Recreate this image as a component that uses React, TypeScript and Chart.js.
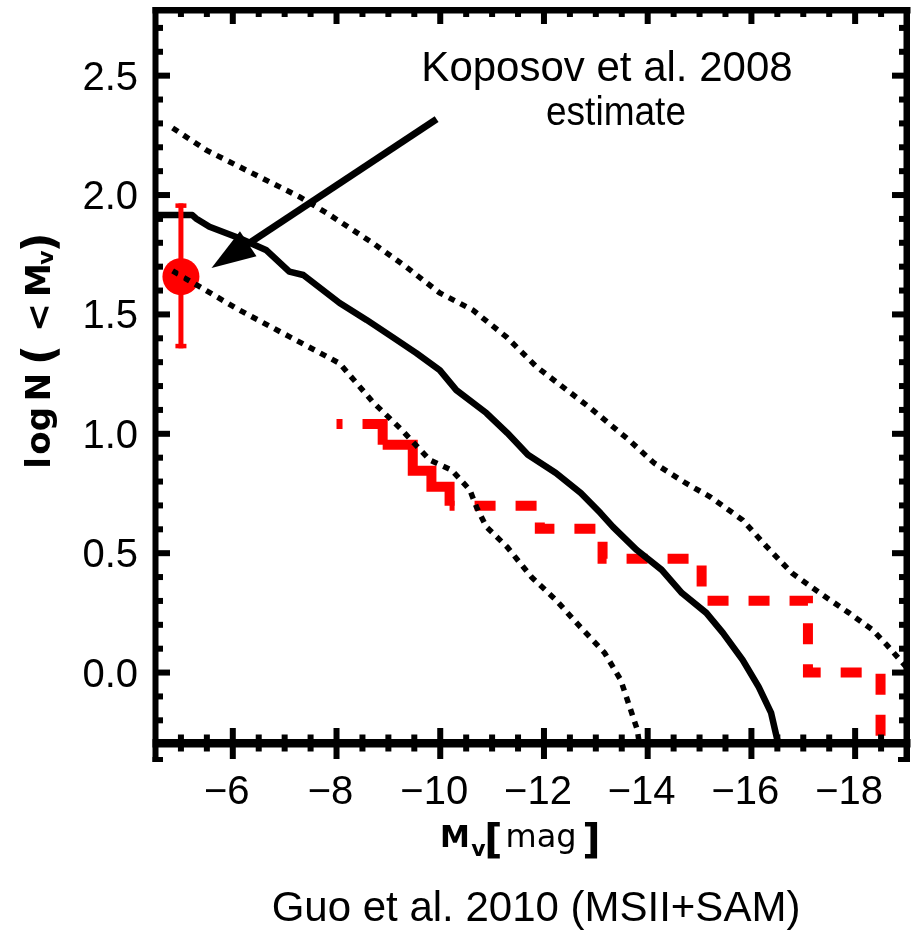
import React, { useEffect, useRef } from "react";
import { Chart, registerables } from "chart.js";

Chart.register(...registerables);

const FONT = '"Liberation Sans", Arial, Helvetica, sans-serif';
const TITLE_FONT = '"DejaVu Sans", "Liberation Sans", sans-serif';
const RED = "#ff0000";

// Axis ticks
const xTickValues = [-6, -8, -10, -12, -14, -16, -18];
const yTickValues = [0, 0.5, 1, 1.5, 2, 2.5];

// Guo et al. 2010 (MSII+SAM) median cumulative luminosity function (solid)
const medianMag = [-4.5, -5.22, -5.29, -5.55, -6.13, -6.64, -7.09, -7.36, -8.06, -8.58, -9.08, -9.54, -9.99, -10.31, -10.89, -11.29, -11.69, -12.23, -12.71, -13.09, -13.33, -13.79, -14.27, -14.66, -15.13, -15.45, -15.83, -16.14, -16.38, -16.5, -16.56];
const medianLogN = [1.916, 1.916, 1.902, 1.867, 1.819, 1.77, 1.679, 1.665, 1.548, 1.477, 1.405, 1.338, 1.267, 1.183, 1.087, 1.004, 0.912, 0.836, 0.752, 0.668, 0.61, 0.513, 0.43, 0.333, 0.25, 0.166, 0.053, -0.06, -0.169, -0.282, -0.35];

// Upper scatter envelope (dotted)
const upperMag = [-4.84, -5.49, -7.29, -7.81, -8.7, -9.35, -9.99, -10.63, -11.28, -11.86, -12.87, -13.64, -14.12, -14.73, -15.21, -15.83, -16.3, -16.78, -17.32, -17.88, -18.34, -18.61, -19.0];
const upperLogN = [2.281, 2.188, 1.992, 1.925, 1.799, 1.698, 1.59, 1.518, 1.405, 1.28, 1.112, 0.974, 0.878, 0.794, 0.735, 0.639, 0.526, 0.417, 0.333, 0.25, 0.178, 0.116, 0.02];

// Lower scatter envelope (dotted)
const lowerMag = [-4.84, -5.36, -6.13, -7.09, -8.06, -8.7, -9.26, -9.8, -10.22, -10.57, -10.7, -10.89, -11.29, -11.76, -12.23, -12.7, -13.17, -13.48, -13.8, -13.84];
const lowerLogN = [1.682, 1.616, 1.518, 1.407, 1.295, 1.133, 1.016, 0.89, 0.848, 0.765, 0.693, 0.61, 0.526, 0.4, 0.304, 0.191, 0.082, -0.031, -0.24, -0.3];

// Observed Milky Way satellites (red dashed step)
const obsMag = [-8.0, -8.89, -9.47, -9.83, -10.18, -11.92, -13.13, -15.04, -17.09, -18.49];
const obsLogN = [1.041, 0.954, 0.845, 0.778, 0.699, 0.602, 0.477, 0.301, 0.0, -0.4];

// Koposov et al. 2008 estimate
const koposovMag = [-5.0];
const koposovLogN = [1.658];
const koposovErrPlus = [0.307];
const koposovErrMinus = [0.3];

// Annotation arrow (data coordinates)
const arrowTail = { x: -9.93, y: 2.318 };
const arrowTip = { x: -5.59, y: 1.694 };

const pts = (xs: number[], ys: number[]) => xs.map((x, i) => ({ x, y: ys[i] }));

const framePlugin = {
  id: "idlFrame",
  afterDatasetsDraw(chart: any) {
    const { ctx, chartArea: a, scales } = chart;
    const xs = scales.x;
    const ys = scales.y;
    ctx.save();
    // error bars
    ctx.fillStyle = RED;
    koposovMag.forEach((m, i) => {
      const px = xs.getPixelForValue(m);
      const top = ys.getPixelForValue(koposovLogN[i] + koposovErrPlus[i]);
      const bot = ys.getPixelForValue(koposovLogN[i] - koposovErrMinus[i]);
      ctx.fillRect(px - 2.5, top, 5, bot - top);
      ctx.fillRect(px - 5.5, top, 11, 4.5);
      ctx.fillRect(px - 5.5, bot - 4.5, 11, 4.5);
    });
    // frame
    ctx.fillStyle = "#000";
    const L = a.left, R = a.right, T = a.top, B = a.bottom;
    const ext = B + 19;
    ctx.fillRect(L - 2.5, T - 3, 6, ext - (T - 3));
    ctx.fillRect(R - 3.5, T - 3, 6.5, ext - (T - 3));
    ctx.fillRect(L - 2.5, T - 3, R - L + 6, 6.5);
    ctx.fillRect(L - 2.5, B - 4, R - L + 6, 8.5);
    ctx.fillRect(L - 2.5, B + 14, 10.5, 5);
    ctx.fillRect(R - 9, B + 14, 9, 5);
    // y ticks
    for (let k = -2; k <= 27; k++) {
      const py = ys.getPixelForValue(k / 10);
      const len = k % 5 === 0 ? 15 : 8;
      ctx.fillRect(L, py - 3, len, 6);
      ctx.fillRect(R - len, py - 3, len, 6);
    }
    // x ticks
    for (let k = 10; k <= 37; k++) {
      const px = xs.getPixelForValue(-k / 2);
      const major = k % 4 === 0;
      if (major) {
        ctx.fillRect(px - 3, B - 15, 6, 31);
        ctx.fillRect(px - 3, T, 6, 14);
      } else {
        ctx.fillRect(px - 3, B - 8.5, 6, 17);
        ctx.fillRect(px - 3, T, 6, 7);
      }
    }
    ctx.restore();
  },
  afterDraw(chart: any) {
    const { ctx, scales } = chart;
    const xs = scales.x;
    const ys = scales.y;
    ctx.save();
    // arrow
    const tx = xs.getPixelForValue(arrowTail.x), ty = ys.getPixelForValue(arrowTail.y);
    const hx = xs.getPixelForValue(arrowTip.x), hy = ys.getPixelForValue(arrowTip.y);
    const dx = hx - tx, dy = hy - ty, len = Math.hypot(dx, dy);
    const ux = dx / len, uy = dy / len;
    const headLen = 44, headHalf = 15;
    const bx = hx - ux * headLen, by = hy - uy * headLen;
    ctx.strokeStyle = "#000";
    ctx.fillStyle = "#000";
    ctx.lineWidth = 7;
    ctx.lineCap = "butt";
    ctx.beginPath();
    ctx.moveTo(tx, ty);
    ctx.lineTo(bx + ux * 6, by + uy * 6);
    ctx.stroke();
    ctx.beginPath();
    ctx.moveTo(hx, hy);
    ctx.lineTo(bx - uy * headHalf, by + ux * headHalf);
    ctx.lineTo(bx + uy * headHalf, by - ux * headHalf);
    ctx.closePath();
    ctx.fill();

    // annotation text
    ctx.textBaseline = "alphabetic";
    ctx.textAlign = "center";
    ctx.font = `42px ${FONT}`;
    ctx.fillText("Koposov et al. 2008", 607, 81);
    ctx.font = `40px ${FONT}`;
    ctx.fillText("estimate", 616, 125, 140);

    // caption
    ctx.font = `42px ${FONT}`;
    ctx.fillText("Guo et al. 2010 (MSII+SAM)", 536, 921);

    // x title: M_v[mag]
    const xPieces: [string, string, number, number][] = [
      ["M", `bold 30px ${TITLE_FONT}`, 455, 847],
      ["v", `bold 22px ${TITLE_FONT}`, 478.5, 856],
      ["[", `bold 40px ${TITLE_FONT}`, 493.5, 853],
      ["mag", `32px ${TITLE_FONT}`, 541, 847],
      ["]", `bold 40px ${TITLE_FONT}`, 591.5, 853],
    ];
    xPieces.forEach(([t, f, cx, by2]) => {
      ctx.font = f;
      ctx.fillText(t, cx, by2);
    });

    // y title: logN(<M_v)
    ctx.save();
    ctx.translate(50, 467);
    ctx.rotate(-Math.PI / 2);
    const yPieces: [string, number, number, number][] = [
      ["l", 34, 4.2, 0],
      ["o", 34, 24, 0],
      ["g", 34, 48, 0],
      ["N", 34, 80, 0],
      ["(", 44, 112, 4],
      ["<", 34, 149.5, 0],
      ["M", 34, 187, 0],
      ["v", 22, 209.5, 3],
      [")", 44, 224.5, 4],
    ];
    yPieces.forEach(([t, size, off, d]) => {
      ctx.font = `bold ${size}px ${TITLE_FONT}`;
      ctx.fillText(t, off, d);
    });
    ctx.restore();
    ctx.restore();
  },
};

const zeroPad = (s: any) => {
  s.paddingTop = 0;
  s.paddingBottom = 0;
  s.paddingLeft = 0;
  s.paddingRight = 0;
};

const TARGET = { left: 155, right: 907, top: 10, bottom: 743 };

export default function App() {
  const ref = useRef<HTMLCanvasElement | null>(null);
  useEffect(() => {
    if (!ref.current) return;
    const chart = new Chart(ref.current, {
      type: "line",
      data: {
        datasets: [
          {
            label: "upper",
            data: pts(upperMag, upperLogN),
            borderColor: "#000",
            borderWidth: 5.5,
            borderDash: [6.5, 6.5],
            pointRadius: 0,
            fill: false,
            tension: 0,
            clip: 0,
          } as any,
          {
            label: "lower",
            data: pts(lowerMag, lowerLogN),
            borderColor: "#000",
            borderWidth: 5.5,
            borderDash: [6.5, 6.5],
            pointRadius: 0,
            fill: false,
            tension: 0,
            clip: 0,
          } as any,
          {
            label: "median",
            data: pts(medianMag, medianLogN),
            borderColor: "#000",
            borderWidth: 6.5,
            borderJoinStyle: "round",
            pointRadius: 0,
            fill: false,
            tension: 0,
            clip: 0,
          } as any,
          {
            label: "observed",
            data: pts(obsMag, obsLogN),
            borderColor: RED,
            borderWidth: 10,
            borderDash: [21, 20],
            borderJoinStyle: "miter",
            stepped: "before",
            pointRadius: 0,
            fill: false,
            clip: 0,
            segment: {
              borderDash: (c: any) =>
                c.p0DataIndex === 0 ? [6, 20, 200, 0] : c.p0DataIndex <= 3 ? [] : [21, 20],
              borderDashOffset: (c: any) => (c.p0DataIndex >= 4 ? 16 : 0),
            },
          } as any,
          {
            label: "Koposov",
            data: pts(koposovMag, koposovLogN),
            showLine: false,
            pointRadius: 18.5,
            pointBackgroundColor: RED,
            pointBorderWidth: 0,
            borderColor: RED,
            clip: 0,
          } as any,
        ],
      },
      options: {
        responsive: false,
        devicePixelRatio: 1,
        animation: false,
        events: [],
        layout: { autoPadding: false, padding: { top: 10, right: 7, left: 0, bottom: 0 } },
        plugins: { legend: { display: false }, tooltip: { enabled: false }, title: { display: false } },
        scales: {
          x: {
            type: "linear",
            min: -19,
            max: -4.5,
            reverse: true,
            grid: { display: false, drawTicks: false },
            border: { display: false },
            ticks: {
              color: "#000",
              font: { family: FONT, size: 40 },
              padding: 26,
              labelOffset: -6,
              maxRotation: 0,
              minRotation: 0,
              autoSkip: false,
              callback: (v: any) => "\u2212" + Math.abs(Number(v)),
            },
            afterBuildTicks: (s: any) => {
              s.ticks = xTickValues.map((v) => ({ value: v }));
            },
            afterFit: (s: any) => {
              s.height = 188;
              zeroPad(s);
            },
          },
          y: {
            type: "linear",
            min: -0.295,
            max: 2.775,
            grid: { display: false, drawTicks: false },
            border: { display: false },
            ticks: {
              color: "#000",
              font: { family: FONT, size: 40 },
              padding: 17,
              labelOffset: 3,
              autoSkip: false,
              callback: (v: any) => Number(v).toFixed(1),
            },
            afterBuildTicks: (s: any) => {
              s.ticks = yTickValues.map((v) => ({ value: v }));
            },
            afterFit: (s: any) => {
              s.width = 155;
              zeroPad(s);
            },
          },
        },
      } as any,
      plugins: [framePlugin],
    });
    // correct chart area to the target box if the layout drifted
    const ca = chart.chartArea;
    const pad = chart.options.layout.padding as any;
    const dTop = TARGET.top - ca.top;
    const dRight = ca.right - TARGET.right;
    const dBottom = ca.bottom - TARGET.bottom;
    const dLeft = TARGET.left - ca.left;
    if (Math.abs(dTop) > 0.5 || Math.abs(dRight) > 0.5 || Math.abs(dBottom) > 0.5 || Math.abs(dLeft) > 0.5) {
      chart.options.layout.padding = {
        top: pad.top + dTop,
        right: pad.right + dRight,
        bottom: pad.bottom + dBottom,
        left: pad.left + dLeft,
      } as any;
      chart.update();
    }
    return () => chart.destroy();
  }, []);
  return (
    <div style={{ position: "absolute", left: 0, top: 0, width: 914, height: 931, background: "#fff" }}>
      <canvas ref={ref} width={914} height={931} style={{ display: "block" }} />
    </div>
  );
}
